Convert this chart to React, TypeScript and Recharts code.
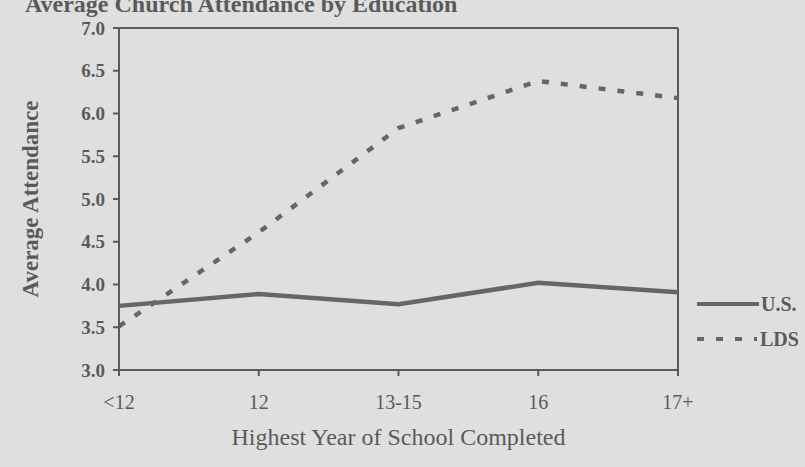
import { Legend, Line, LineChart, ReferenceLine, XAxis, YAxis } from "recharts";

const categories = ["<12", "12", "13-15", "16", "17+"];
const usValues = [3.75, 3.89, 3.77, 4.02, 3.91];
const ldsValues = [3.51, 4.61, 5.83, 6.38, 6.18];
const yTicks = [3.0, 3.5, 4.0, 4.5, 5.0, 5.5, 6.0, 6.5, 7.0];
const seriesNames = ["U.S.", "LDS"];

const INK = "#5a5a5a";
const LINE = "#666";
const FONT = "'Liberation Serif', 'Times New Roman', serif";

const data = categories.map((c, i) => ({
  name: c,
  us: usValues[i],
  lds: ldsValues[i],
}));

const renderLegend = (props: any) => {
  const items = [...(props.payload || [])].sort(
    (a: any, b: any) => seriesNames.indexOf(a.value) - seriesNames.indexOf(b.value)
  );
  return (
    <svg width={110} height={60} style={{ display: "block", overflow: "visible" }}>
      {items.map((entry: any, i: number) => {
        const y = 14 + i * 35;
        const dashed = entry.value === "LDS";
        return (
          <g key={entry.value}>
            <line
              x1={2}
              x2={dashed ? 62 : 64}
              y1={y}
              y2={y}
              stroke={LINE}
              strokeWidth={4}
              strokeDasharray={dashed ? "7 12" : undefined}
            />
            <text
              x={dashed ? 65 : 66}
              y={y}
              dominantBaseline="central"
              fontFamily={FONT}
              fontWeight="bold"
              fontSize={20}
              fill={INK}
            >
              {entry.value}
            </text>
          </g>
        );
      })}
    </svg>
  );
};

export default function App() {
  return (
    <div
      style={{
        position: "fixed",
        left: 0,
        top: 0,
        width: 805,
        height: 467,
        background: "#dfdfdf",
        overflow: "hidden",
        fontFamily: FONT,
      }}
    >
      <div
        style={{
          position: "absolute",
          left: 25,
          top: -8,
          fontSize: 24,
          lineHeight: "24px",
          fontWeight: "bold",
          color: INK,
          whiteSpace: "nowrap",
        }}
      >
        Average Church Attendance by Education
      </div>
      <LineChart
        width={805}
        height={467}
        data={data}
        margin={{ top: 28, right: 127, bottom: 14, left: 0 }}
      >
        <XAxis
          dataKey="name"
          padding={{ left: 0, right: 0 }}
          stroke={INK}
          strokeWidth={2}
          tickSize={6}
          tickMargin={19}
          height={83}
          tick={{ fill: INK, fontSize: 20, fontFamily: FONT }}
          label={{
            value: "Highest Year of School Completed",
            position: "insideBottom",
            offset: 8,
            fill: INK,
            fontSize: 24,
            fontFamily: FONT,
          }}
        />
        <YAxis
          domain={[3, 7]}
          ticks={yTicks}
          tickFormatter={(v: number) => v.toFixed(1)}
          width={119}
          stroke={INK}
          strokeWidth={2}
          tickSize={6}
          tickMargin={8}
          tick={{ fill: INK, fontSize: 19, fontFamily: FONT, fontWeight: "bold" }}
          label={{
            value: "Average Attendance",
            angle: -90,
            position: "insideLeft",
            offset: 30,
            style: { textAnchor: "middle" },
            fill: INK,
            fontSize: 23,
            fontWeight: "bold",
            fontFamily: FONT,
          }}
        />
        <ReferenceLine y={7} stroke={INK} strokeWidth={2} />
        <ReferenceLine x="17+" stroke={INK} strokeWidth={2} />
        <Line
          type="linear"
          dataKey="us"
          name="U.S."
          stroke={LINE}
          strokeWidth={4.5}
          dot={false}
          isAnimationActive={false}
        />
        <Line
          type="linear"
          dataKey="lds"
          name="LDS"
          stroke={LINE}
          strokeWidth={4.5}
          strokeDasharray="7 12"
          dot={false}
          isAnimationActive={false}
        />
        <Legend
          layout="horizontal"
          verticalAlign="middle"
          align="center"
          content={renderLegend}
          wrapperStyle={{ left: 695, top: 290, width: 110 }}
        />
      </LineChart>
    </div>
  );
}
